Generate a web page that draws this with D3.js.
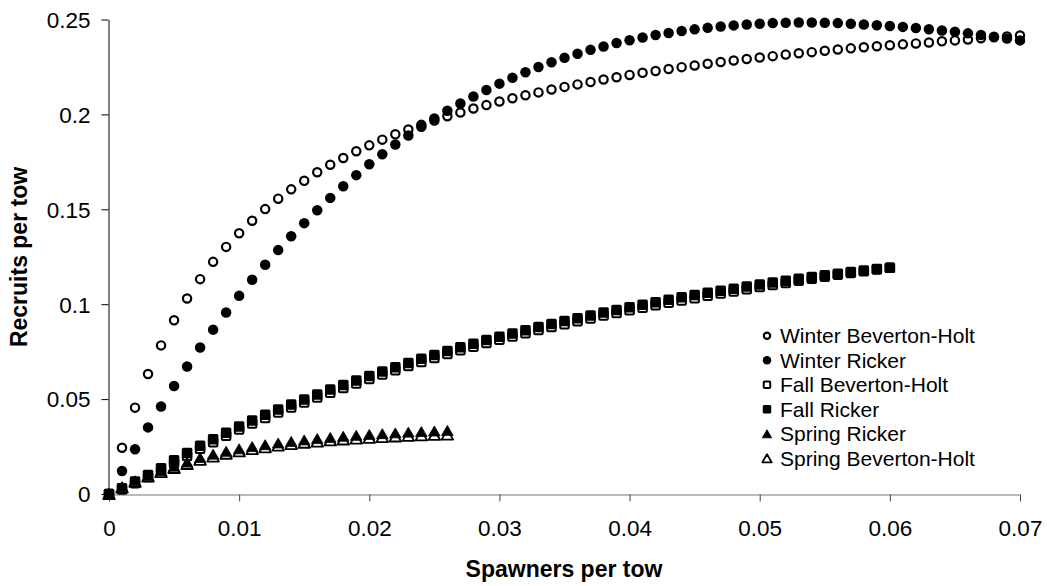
<!DOCTYPE html>
<html>
<head>
<meta charset="utf-8">
<script src="https://cdn.jsdelivr.net/npm/d3@7"></script>
<style>
  html, body { margin: 0; padding: 0; background: #fff; }
  svg { display: block; }
  text { font-family: "Liberation Sans", Arial, sans-serif; fill: #000; }
</style>
</head>
<body>
<svg id="chart" width="1047" height="586"></svg>
<script>
// ---- data ----
const spawners = [0,0.001,0.002,0.003,0.004,0.005,0.006,0.007,0.008,0.009,
  0.010,0.011,0.012,0.013,0.014,0.015,0.016,0.017,0.018,0.019,
  0.020,0.021,0.022,0.023,0.024,0.025,0.026,0.027,0.028,0.029,
  0.030,0.031,0.032,0.033,0.034,0.035,0.036,0.037,0.038,0.039,
  0.040,0.041,0.042,0.043,0.044,0.045,0.046,0.047,0.048,0.049,
  0.050,0.051,0.052,0.053,0.054,0.055,0.056,0.057,0.058,0.059,
  0.060,0.061,0.062,0.063,0.064,0.065,0.066,0.067,0.068,0.069,0.070];

const winterBH = [0,0.0244,0.0455,0.0632,0.0783,0.0915,0.1030,0.1132,0.1223,0.1302,
  0.1374,0.1440,0.1501,0.1556,0.1605,0.1650,0.1695,0.1735,0.1770,0.1806,
  0.1837,0.1867,0.1895,0.1920,0.1945,0.1968,0.1990,0.2010,0.2031,0.2049,
  0.2068,0.2085,0.2101,0.2116,0.2131,0.2145,0.2158,0.2171,0.2184,0.2196,
  0.2208,0.2219,0.2229,0.2239,0.2249,0.2258,0.2267,0.2276,0.2284,0.2292,
  0.2300,0.2307,0.2315,0.2322,0.2328,0.2335,0.2342,0.2348,0.2354,0.2359,
  0.2364,0.2369,0.2374,0.2379,0.2385,0.2390,0.2395,0.2401,0.2406,0.2411,0.2416];

const winterRicker = [0,0.0121,0.0236,0.0351,0.0461,0.0569,0.0672,0.0772,0.0866,0.0956,
  0.1044,0.1129,0.1208,0.1285,0.1358,0.1427,0.1495,0.1560,0.1621,0.1680,
  0.1737,0.1790,0.1841,0.1889,0.1935,0.1978,0.2019,0.2057,0.2094,0.2129,
  0.2162,0.2193,0.2222,0.2250,0.2275,0.2298,0.2320,0.2340,0.2358,0.2376,
  0.2391,0.2405,0.2418,0.2429,0.2439,0.2448,0.2456,0.2463,0.2469,0.2474,
  0.2478,0.2481,0.2483,0.2484,0.2484,0.2483,0.2481,0.2478,0.2474,0.2470,
  0.2466,0.2461,0.2455,0.2449,0.2442,0.2435,0.2427,0.2418,0.2409,0.2400,0.2390];

const fallBH = [0,0.0024,0.0057,0.0089,0.0123,0.0162,0.0200,0.0238,0.0273,0.0307,
  0.0340,0.0371,0.0401,0.0429,0.0456,0.0482,0.0508,0.0534,0.0558,0.0582,
  0.0606,0.0629,0.0652,0.0674,0.0696,0.0717,0.0737,0.0757,0.0776,0.0795,
  0.0813,0.0830,0.0847,0.0864,0.0880,0.0895,0.0910,0.0925,0.0940,0.0954,
  0.0968,0.0981,0.0994,0.1007,0.1020,0.1032,0.1044,0.1056,0.1067,0.1079,
  0.1090,0.1101,0.1112,0.1123,0.1134,0.1145,0.1155,0.1165,0.1174,0.1183,0.1192];

const fallRicker = [0,0.0030,0.0066,0.0100,0.0136,0.0178,0.0216,0.0254,0.0289,0.0323,
  0.0356,0.0387,0.0417,0.0445,0.0472,0.0498,0.0524,0.0550,0.0574,0.0598,
  0.0622,0.0645,0.0668,0.0690,0.0712,0.0733,0.0753,0.0773,0.0792,0.0811,
  0.0829,0.0846,0.0863,0.0880,0.0896,0.0911,0.0926,0.0941,0.0956,0.0970,
  0.0984,0.0997,0.1010,0.1023,0.1036,0.1048,0.1060,0.1071,0.1082,0.1093,
  0.1104,0.1114,0.1124,0.1134,0.1143,0.1152,0.1161,0.1169,0.1177,0.1185,0.1192];

const springRicker = [0,0.0038,0.0070,0.0098,0.0123,0.0146,0.0168,0.0192,0.0210,0.0225,
  0.0238,0.0250,0.0260,0.0269,0.0277,0.0285,0.0292,0.0298,0.0304,0.0309,
  0.0314,0.0318,0.0322,0.0326,0.0329,0.0332,0.0335];

const springBH = [0,0.0034,0.0064,0.0091,0.0115,0.0137,0.0158,0.0180,0.0197,0.0212,
  0.0224,0.0236,0.0246,0.0255,0.0263,0.0270,0.0276,0.0282,0.0287,0.0292,
  0.0296,0.0300,0.0303,0.0306,0.0309,0.0311,0.0313];

const xTicks = [0,0.01,0.02,0.03,0.04,0.05,0.06,0.07];
const xTickLabels = ["0","0.01","0.02","0.03","0.04","0.05","0.06","0.07"];
const yTicks = [0,0.05,0.1,0.15,0.2,0.25];
const yTickLabels = ["0","0.05","0.1","0.15","0.2","0.25"];

const xTitle = "Spawners per tow";
const yTitle = "Recruits per tow";

// series: drawing order (later on top) and legend order
const series = [
  { name: "Winter Beverton-Holt", values: winterBH,     shape: "circle",   open: true  },
  { name: "Winter Ricker",        values: winterRicker, shape: "circle",   open: false },
  { name: "Fall Beverton-Holt",   values: fallBH,       shape: "square",   open: true  },
  { name: "Fall Ricker",          values: fallRicker,   shape: "square",   open: false },
  { name: "Spring Beverton-Holt", values: springBH,     shape: "triangle", open: true  },
  { name: "Spring Ricker",        values: springRicker, shape: "triangle", open: false }
];
const legendOrder = ["Winter Beverton-Holt","Winter Ricker","Fall Beverton-Holt","Fall Ricker","Spring Ricker","Spring Beverton-Holt"];

// ---- chart ----
const svg = d3.select("#chart");
const x = d3.scaleLinear().domain([0, 0.07]).range([109, 1020]);
const y = d3.scaleLinear().domain([0, 0.25]).range([494, 19.5]);

// axes
const yAxis = d3.axisLeft(y).tickValues(yTicks)
  .tickFormat((d, i) => yTickLabels[i]).tickSize(7).tickPadding(11).tickSizeOuter(0);
const gy = svg.append("g").attr("transform", "translate(108.5,0)").call(yAxis);
gy.select(".domain").attr("stroke", "#000").attr("stroke-width", 1);
gy.selectAll(".tick line").attr("stroke", "#000");
gy.selectAll(".tick text").style("font-size", "22.5px").attr("dy", "0.35em");

const xAxis = d3.axisBottom(x).tickValues(xTicks)
  .tickFormat((d, i) => xTickLabels[i]).tickSize(7).tickPadding(19).tickSizeOuter(0);
const gx = svg.append("g").attr("transform", "translate(0,494.5)").call(xAxis);
gx.select(".domain").attr("stroke", "#777").attr("stroke-width", 1.2);
gx.selectAll(".tick line").attr("stroke", "#444");
gx.selectAll(".tick text").style("font-size", "22.5px");
gx.selectAll(".tick").attr("font-family", null);
gy.selectAll(".tick").attr("font-family", null);
gx.attr("font-family", null); gy.attr("font-family", null);

// titles
svg.append("text").attr("x", 564).attr("y", 577).attr("text-anchor", "middle")
  .style("font-size", "23px").style("font-weight", "bold").text(xTitle);
svg.append("text").attr("transform", "translate(27,257) rotate(-90)").attr("text-anchor", "middle")
  .style("font-size", "23px").style("font-weight", "bold").text(yTitle);

// marker drawing
function drawMarker(g, shape, open, cx, cy, s) {
  // s = nominal marker size in px
  if (shape === "circle") {
    if (open) {
      g.append("circle").attr("cx", cx).attr("cy", cy).attr("r", s / 2 - 1.1)
        .attr("fill", "#fff").attr("stroke", "#000").attr("stroke-width", 2.2);
    } else {
      g.append("circle").attr("cx", cx).attr("cy", cy).attr("r", s / 2).attr("fill", "#000");
    }
  } else if (shape === "square") {
    if (open) {
      g.append("rect").attr("x", cx - s / 2 + 1).attr("y", cy - s / 2 + 1)
        .attr("width", s - 2).attr("height", s - 2).attr("rx", 1)
        .attr("fill", "#fff").attr("stroke", "#000").attr("stroke-width", 2);
    } else {
      g.append("rect").attr("x", cx - s / 2).attr("y", cy - s / 2)
        .attr("width", s).attr("height", s).attr("rx", 1.5).attr("fill", "#000");
    }
  } else {
    const h = s * 0.95, w = s * 1.1;
    const pts = [[cx, cy - h / 2], [cx + w / 2, cy + h / 2], [cx - w / 2, cy + h / 2]];
    const p = g.append("path").attr("d", d3.line()(pts) + "Z");
    if (open) p.attr("fill", "#fff").attr("stroke", "#000").attr("stroke-width", 1.8).attr("stroke-linejoin", "round");
    else p.attr("fill", "#000").attr("stroke", "#000").attr("stroke-width", 0.8).attr("stroke-linejoin", "round");
  }
}

const plot = svg.append("g");
series.forEach(sr => {
  const g = plot.append("g").attr("class", "series");
  sr.values.forEach((v, i) => {
    drawMarker(g, sr.shape, sr.open, x(spawners[i]), y(v), sr.shape === "triangle" ? 10.5 : 10.5);
  });
});

// legend
const legend = svg.append("g");
legendOrder.forEach((name, i) => {
  const sr = series.find(s => s.name === name);
  const by = 343.3 + i * 24.5;
  drawMarker(legend, sr.shape, sr.open, 767, by - 7.5, 8.5);
  legend.append("text").attr("x", 780).attr("y", by).style("font-size", "21px").text(name);
});
</script>
</body>
</html>
